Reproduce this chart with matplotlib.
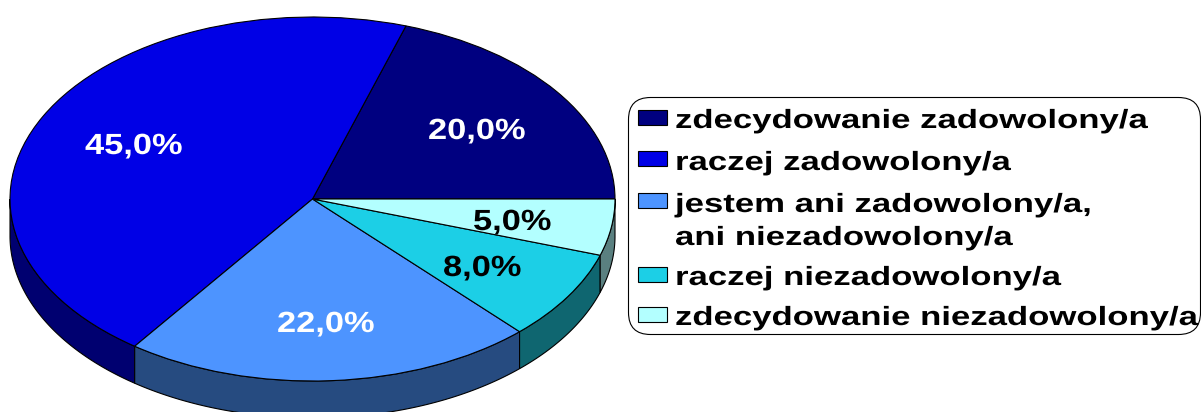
import numpy as np
import matplotlib
matplotlib.use("Agg")
import matplotlib.pyplot as plt
from matplotlib.patches import FancyBboxPatch, Rectangle
from matplotlib.patheffects import AbstractPathEffect
from matplotlib.transforms import Affine2D

categories = ["zdecydowanie zadowolony/a", "raczej zadowolony/a", "jestem ani zadowolony/a,",
              "raczej niezadowolony/a", "zdecydowanie niezadowolony/a"]
shares = [20.0, 45.0, 22.0, 8.0, 5.0]
value_labels = ["20,0%", "45,0%", "22,0%", "8,0%", "5,0%"]
top_colors = ["#000080", "#0000E6", "#4D94FF", "#1CCFE6", "#B3FFFF"]
wall_colors = ["#000066", "#000070", "#264B80", "#0F6670", "#5A8080"]
label_colors = ["white", "white", "white", "black", "black"]

W, H = 1201, 412
CX, CY, RX, RY = 312.5, 199, 302.5, 182
DEPTH = 37 / RY


class Stretch(AbstractPathEffect):
    # the reference text is wider than the font, stretch it from its own origin
    def __init__(self, sx):
        super().__init__()
        self.sx = sx

    def draw_path(self, renderer, gc, tpath, affine, rgbFace=None):
        x0 = affine.get_matrix()[0, 2]
        stretched = affine + Affine2D().translate(-x0, 0).scale(self.sx, 1).translate(x0, 0)
        renderer.draw_path(gc, tpath, stretched, rgbFace)


fig = plt.figure(figsize=(W / 100, H / 100), dpi=100)

# pie axes, squeezed to the ellipse of the tilted pie
ax = fig.add_axes([(CX - RX) / W, 1 - (CY + RY) / H, 2 * RX / W, 2 * RY / H])
ax.pie(shares, colors=top_colors, startangle=0, radius=1, center=(0, 0),
       wedgeprops=dict(edgecolor="black", linewidth=0.8, zorder=3))
ax.set_aspect("auto")
ax.set_xlim(-1, 1)
ax.set_ylim(-1, 1)

# walls of the lower half
edges = np.cumsum([0] + shares) / 100 * 360
for i in range(len(shares)):
    a0, a1 = max(edges[i], 180), edges[i + 1]
    if a1 <= 180:
        continue
    t = np.radians(np.linspace(a0, a1, 80))
    xs = np.concatenate([np.cos(t), np.cos(t[::-1])])
    ys = np.concatenate([np.sin(t), np.sin(t[::-1]) - DEPTH])
    ax.fill(xs, ys, facecolor=wall_colors[i], edgecolor="black", linewidth=0.8, clip_on=False, zorder=1)

# overlay in image pixels for texts and legend
ov = fig.add_axes([0, 0, 1, 1])
ov.set_xlim(0, W)
ov.set_ylim(H, 0)
ov.axis("off")
ov.patch.set_alpha(0)

font = dict(family="Liberation Sans", fontweight="bold", va="baseline", ha="left")

value_pos = [(428, 139), (85, 154), (277, 332), (443, 276), (473, 230)]
for lab, col, (x, y) in zip(value_labels, label_colors, value_pos):
    ov.text(x, y, lab, color=col, fontsize=21, path_effects=[Stretch(1.18)], **font)

ov.add_patch(FancyBboxPatch((628.5, 97.5), 572, 237, boxstyle="round,pad=0,rounding_size=22",
                            facecolor="none", edgecolor="black", linewidth=0.8, clip_on=False))

swatch_y = [110, 151, 193, 267, 307]
for y, col in zip(swatch_y, top_colors):
    ov.add_patch(Rectangle((638, y), 29, 15, facecolor=col, edgecolor="black", linewidth=0.8))

legend_lines = [categories[0], categories[1], categories[2], "ani niezadowolony/a",
                categories[3], categories[4]]
baselines = [128, 170, 212, 245, 285, 325]
for line, y in zip(legend_lines, baselines):
    ov.text(675, y, line, color="black", fontsize=19, path_effects=[Stretch(1.316)], **font)

fig.savefig("out.png", dpi=100, facecolor="white")
